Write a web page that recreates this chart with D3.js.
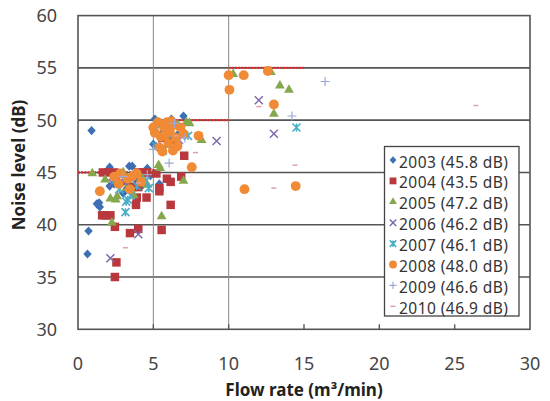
<!DOCTYPE html>
<html>
<head>
<meta charset="utf-8">
<script src="https://cdn.jsdelivr.net/npm/d3@7"></script>
<style>
  body { margin: 0; background: #fff; }
  text { font-family: "Noto Sans", "DejaVu Sans", sans-serif; }
</style>
</head>
<body>
<svg id="chart" width="550" height="401"></svg>
<script>
// series: [flow rate, noise level]
var years = ["2003", "2004", "2005", "2006", "2007", "2008", "2009", "2010"];
var means = ["45.8", "43.5", "47.2", "46.2", "46.1", "48.0", "46.6", "46.9"];

var s2003 = [[0.9,49.0],[0.7,39.4],[0.63,37.2],[1.25,42.0],[1.45,41.7],[2.1,45.5],[2.1,43.7],[3.4,45.6],[3.6,45.6],[4.6,45.4],[2.6,44.6],[3.0,43.0],[3.3,44.0],[3.9,44.2],[4.3,43.8],[4.8,44.7],[5.4,43.9],[7.0,50.4],[5.0,47.7],[5.2,49.5],[5.6,48.8],[6.2,50.1],[5.1,50.1],[6.6,48.6],[2.4,43.9],[1.4,42.1]];
var s2004 = [[1.65,45.0],[2.0,45.0],[2.4,45.0],[4.0,45.0],[4.3,45.0],[4.6,45.0],[5.2,44.9],[1.6,40.9],[1.85,40.9],[2.15,40.9],[2.45,35.0],[2.55,36.4],[2.45,39.8],[3.45,39.2],[4.0,39.6],[3.85,41.9],[3.9,42.6],[4.55,42.6],[5.55,39.5],[6.15,41.9],[5.4,43.2],[5.4,43.5],[5.9,44.4],[6.15,44.1],[6.85,44.6],[7.05,46.6],[5.6,48.3],[6.3,48.1],[3.6,43.6],[4.0,43.6],[3.2,44.2],[5.9,49.2]];
var s2005 = [[0.95,44.9],[1.8,44.3],[2.25,40.2],[2.15,42.5],[2.5,42.4],[2.6,42.7],[5.55,40.8],[5.35,45.7],[5.45,45.4],[7.0,44.2],[8.2,48.1],[7.4,49.7],[10.3,54.4],[12.8,54.6],[13.4,53.3],[14.0,52.9],[13.0,50.6],[4.25,44.4],[3.2,43.5],[3.7,42.8],[4.6,43.8],[5.2,48.7],[5.9,47.6],[6.6,49.6],[7.2,49.8],[3.0,45.0]];
var s2006 = [[2.15,36.8],[4.0,39.1],[9.2,48.0],[12.0,51.9],[13.0,48.7],[2.85,44.2],[6.7,48.1],[3.3,43.8],[5.4,49.6],[2.3,44.0]];
var s2007 = [[3.15,41.2],[3.2,42.2],[14.5,49.3],[7.3,48.5],[2.75,43.4],[4.5,44.2],[5.65,47.1],[3.5,42.8],[3.9,43.7],[4.7,43.5],[5.1,49.0],[6.0,48.6],[2.5,44.3],[3.3,42.4],[5.2,47.5]];
var s2008 = [[1.45,43.2],[10.0,54.3],[11.0,54.3],[12.6,54.7],[10.05,52.9],[13.0,51.5],[11.05,43.4],[14.45,43.7],[8.0,48.5],[7.55,45.5],[3.45,43.4],[2.4,44.6],[2.8,44.9],[3.3,44.4],[3.9,44.9],[4.2,44.1],[2.7,43.9],[3.6,44.6],[5.1,48.8],[5.3,49.8],[5.5,48.4],[5.7,49.3],[5.9,49.8],[6.1,48.9],[6.3,49.5],[6.5,48.3],[6.8,49.3],[5.4,47.4],[6.0,47.8],[6.3,47.1],[6.6,47.5],[5.0,49.3],[5.8,48.6],[6.2,49.9],[7.0,48.7],[5.6,47.0]];
var s2009 = [[16.4,53.7],[14.2,50.4],[6.05,45.9],[5.0,47.2],[3.0,44.6],[4.6,44.8],[6.4,49.7],[7.1,48.3]];
var s2010 = [[26.4,51.4],[14.4,45.7],[13.0,43.5],[3.15,37.8],[7.8,46.9],[12.0,51.3],[4.0,44.0],[6.5,48.5]];
var allSeries = [s2003, s2004, s2005, s2006, s2007, s2008, s2009, s2010];

// limit lines: [x from, x to, level]
var limits = [[0, 5, 45], [5, 10, 50], [10, 15, 55]];

var xTicks = [0, 5, 10, 15, 20, 25, 30];
var yTicks = [30, 35, 40, 45, 50, 55, 60];

var colors = ["#3d6fb3", "#b8383d", "#86a84c", "#7b66a8", "#4aaec6", "#f08a35", "#9ea8d8", "#e0a0a8"];
var shapes = ["diamond", "square", "triangle", "x", "star", "circle", "plus", "dash"];

var svg = d3.select("#chart"),
    margin = {left: 78, top: 15.6, right: 20, bottom: 71.5},
    width = 530 - margin.left,
    height = 329.3 - margin.top;

var x = d3.scaleLinear().domain([0, 30]).range([margin.left, margin.left + width]);
var y = d3.scaleLinear().domain([30, 60]).range([margin.top + height, margin.top]);

// horizontal grid
svg.append("g").selectAll("line")
    .data(yTicks.slice(1, -1))
    .enter().append("line")
    .attr("x1", x(0)).attr("x2", x(30))
    .attr("y1", function(d) { return y(d); })
    .attr("y2", function(d) { return y(d); })
    .attr("stroke", "#555").attr("stroke-width", 1.6);

// vertical lines at 5 and 10
svg.append("g").selectAll("line")
    .data([5, 10])
    .enter().append("line")
    .attr("x1", function(d) { return x(d); })
    .attr("x2", function(d) { return x(d); })
    .attr("y1", y(30)).attr("y2", y(60))
    .attr("stroke", "#888").attr("stroke-width", 1);

// bottom ticks (inside)
svg.append("g").selectAll("line")
    .data(xTicks.slice(1, -1))
    .enter().append("line")
    .attr("x1", function(d) { return x(d); })
    .attr("x2", function(d) { return x(d); })
    .attr("y1", y(30)).attr("y2", y(30) - 5)
    .attr("stroke", "#555").attr("stroke-width", 1.4);

// frame
svg.append("rect")
    .attr("x", x(0)).attr("y", y(60))
    .attr("width", width).attr("height", height)
    .attr("fill", "none").attr("stroke", "#555").attr("stroke-width", 1.6);

// red dotted limit lines
svg.append("g").selectAll("line")
    .data(limits)
    .enter().append("line")
    .attr("x1", function(d) { return x(d[0]); })
    .attr("x2", function(d) { return x(d[1]); })
    .attr("y1", function(d) { return y(d[2]); })
    .attr("y2", function(d) { return y(d[2]); })
    .attr("stroke", "#e42a2e").attr("stroke-width", 2.4)
    .attr("stroke-dasharray", "2,1.2");

function marker(sel, k, c) {
    var s = shapes[k], col = colors[k], q = Math.sqrt(c);
    if (s === "diamond") {
        var w = 4.2 * q, h = 4.6 * q;
        sel.append("path").attr("d", "M0," + -h + "L" + w + ",0L0," + h + "L" + -w + ",0Z").attr("fill", col);
    } else if (s === "square") {
        sel.append("path").attr("d", d3.symbol(d3.symbolSquare, 72 * c)()).attr("fill", col);
    } else if (s === "triangle") {
        sel.append("path").attr("d", d3.symbol(d3.symbolTriangle, 42 * c)()).attr("fill", col);
    } else if (s === "circle") {
        sel.append("path").attr("d", d3.symbol(d3.symbolCircle, 76 * c)()).attr("fill", col);
    } else if (s === "x") {
        var r = 4 * q;
        sel.append("path").attr("d", "M" + -r + "," + -r + "L" + r + "," + r + "M" + -r + "," + r + "L" + r + "," + -r)
            .attr("stroke", col).attr("stroke-width", 1.4).attr("fill", "none");
    } else if (s === "star") {
        var r2 = 4 * q;
        sel.append("path").attr("d", "M" + -r2 + "," + -r2 + "L" + r2 + "," + r2 + "M" + -r2 + "," + r2 + "L" + r2 + "," + -r2 + "M0," + -r2 + "L0," + r2)
            .attr("stroke", col).attr("stroke-width", 1.6).attr("fill", "none");
    } else if (s === "plus") {
        var r3 = 4.5 * q;
        sel.append("path").attr("d", "M" + -r3 + ",0L" + r3 + ",0M0," + -r3 + "L0," + r3)
            .attr("stroke", col).attr("stroke-width", 1.2).attr("fill", "none");
    } else {
        sel.append("path").attr("d", "M-2.5,0L2.5,0")
            .attr("stroke", col).attr("stroke-width", 1.5).attr("fill", "none");
    }
}

allSeries.forEach(function(data, k) {
    svg.append("g").selectAll("g")
        .data(data)
        .enter().append("g")
        .attr("transform", function(d) { return "translate(" + x(d[0]) + "," + y(d[1]) + ")"; })
        .each(function() { marker(d3.select(this), k, 1); });
});

// tick labels
svg.append("g").selectAll("text")
    .data(xTicks)
    .enter().append("text")
    .attr("x", function(d) { return x(d); })
    .attr("y", 370)
    .attr("text-anchor", "middle")
    .attr("font-size", 18).attr("fill", "#454545")
    .text(function(d) { return d; });

svg.append("g").selectAll("text")
    .data(yTicks)
    .enter().append("text")
    .attr("x", 57)
    .attr("y", function(d) { return y(d) + 6.5; })
    .attr("text-anchor", "end")
    .attr("font-size", 18).attr("fill", "#454545")
    .text(function(d) { return d; });

// axis titles
svg.append("text")
    .attr("x", 304).attr("y", 396)
    .attr("text-anchor", "middle")
    .attr("font-size", 17).attr("font-weight", "bold").attr("fill", "#222")
    .text("Flow rate (m\u00b3/min)");

svg.append("text")
    .attr("transform", "translate(25,165) rotate(-90)")
    .attr("text-anchor", "middle")
    .attr("font-size", 17).attr("font-weight", "bold").attr("fill", "#222")
    .text("Noise level (dB)");

// legend
var lg = svg.append("g");
lg.append("rect")
    .attr("x", 384.5).attr("y", 146.5)
    .attr("width", 134.5).attr("height", 169.5)
    .attr("fill", "#fff").attr("stroke", "#444").attr("stroke-width", 1.3);

var rows = lg.selectAll("g.row")
    .data(years)
    .enter().append("g")
    .attr("class", "row")
    .attr("transform", function(d, i) { return "translate(0," + (162 + i * 20.9) + ")"; });

rows.each(function(d, i) {
    var m = d3.select(this).append("g").attr("transform", "translate(393,-2)");
    marker(m, i, 0.65);
});

rows.append("text")
    .attr("x", 399).attr("y", 5.5)
    .attr("font-size", 15.5).attr("fill", "#333")
    .attr("textLength", 109).attr("lengthAdjust", "spacing")
    .text(function(d, i) { return d + " (" + means[i] + " dB)"; });
</script>
</body>
</html>
